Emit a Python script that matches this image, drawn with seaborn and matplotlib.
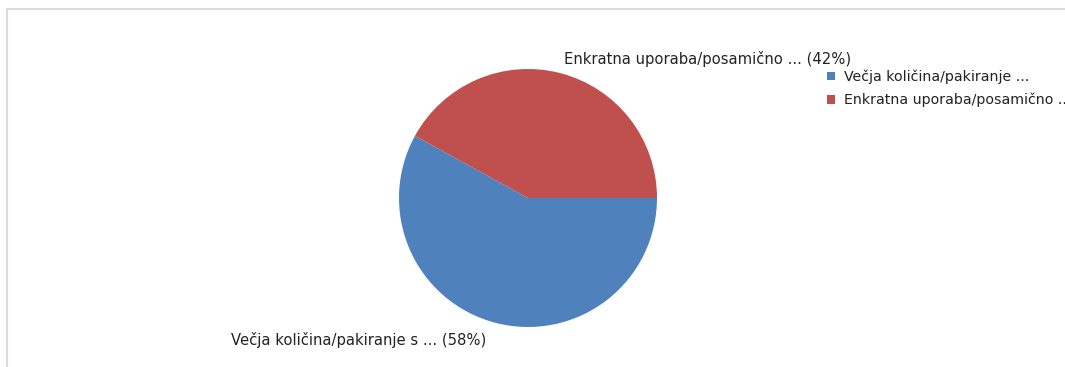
import matplotlib
matplotlib.use("Agg")
import matplotlib.pyplot as plt
import seaborn as sns
from matplotlib.patches import Rectangle, Patch

categories = ["Večja količina/pakiranje s ...", "Enkratna uporaba/posamično ..."]
legend_labels = ["Večja količina/pakiranje ...", "Enkratna uporaba/posamično ..."]
values = [58, 42]
colors = ["#4F81BD", "#C0504D"]

sns.set_theme(style="white")
plt.rcParams['font.family'] = ['DejaVu Sans']

W, H = 1065, 367
fig = plt.figure(figsize=(W / 100, H / 100), dpi=100)
ax = fig.add_axes([0, 0, 1, 1])
ax.axis('off')

# frame of the chart area
ax.add_patch(Rectangle((7, -20), W + 20, H - 9 + 20, fill=False,
                       edgecolor="#dcdcdc", linewidth=1.5, clip_on=False))

wedges, _ = ax.pie(values, colors=colors, startangle=0, counterclock=False,
                   center=(528, H - 198), radius=129,
                   wedgeprops=dict(linewidth=0))
ax.set_xlim(0, W)
ax.set_ylim(0, H)
ax.set_aspect('equal')

fs = 10.6
ax.text(564, H - 59, f"{categories[1]} ({values[1]}%)", fontsize=fs,
        color="#222222", ha="left", va="center")
ax.text(231, H - 340, f"{categories[0]} ({values[0]}%)", fontsize=fs,
        color="#222222", ha="left", va="center")

lfs = 10.2
handles = [Patch(facecolor=c, edgecolor="none") for c in colors]
leg = ax.legend(handles, legend_labels, loc="upper left",
                bbox_to_anchor=(826 / W, 1 - 68 / H), bbox_transform=fig.transFigure,
                frameon=False, fontsize=lfs, handlelength=0.57, handleheight=0.57,
                handletextpad=0.57, labelspacing=0.62, borderpad=0.1, borderaxespad=0)
for t in leg.get_texts():
    t.set_color("#222222")

fig.savefig("out.png", dpi=100)
